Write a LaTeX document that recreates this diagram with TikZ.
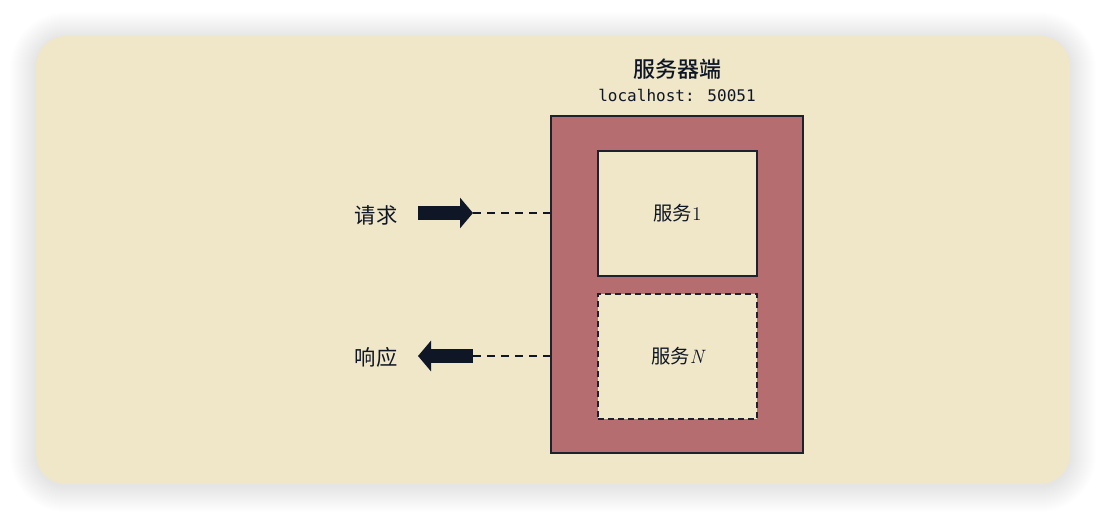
\documentclass[tikz,border=0pt]{standalone}
\usepackage{fontspec}
\newfontfamily\cjk{Noto Sans CJK SC}
\newfontfamily\cjkmed{Noto Sans CJK SC Medium}
\newfontfamily\monofont{DejaVu Sans Mono}
\usetikzlibrary{arrows.meta,positioning,calc}

\definecolor{paper}{RGB}{239,231,200}
\definecolor{brick}{RGB}{181,109,112}
\definecolor{ink}{RGB}{15,22,38}
\definecolor{edge}{RGB}{30,34,46}

\tikzset{
  srvbox/.style={rectangle, draw=edge, line width=1.1pt, fill=brick, minimum width=189pt, minimum height=252.75pt},
  svcbox/.style={rectangle, draw=edge, line width=1.1pt, fill=paper, minimum width=119.25pt, minimum height=93.75pt, font=\cjk\fontsize{14.5}{16}\selectfont, text=ink},
  lbl/.style={font=\cjk\fontsize{16}{18}\selectfont, text=ink},
  bigarrow/.style={ink, line width=10.5pt, -{Triangle[length=9.75pt, width=22.5pt]}},
  dashline/.style={ink, line width=1pt, dash pattern=on 6pt off 4.5pt}
}

\begin{document}
\begin{tikzpicture}[x=0.75pt, y=-0.75pt]
  \useasboundingbox[fill=white] (0,0) rectangle (1106,520);
  % soft shadow + panel
  \foreach \i in {1,...,26}
    \fill[black, opacity=0.005, rounded corners=\i*0.75pt+22.5pt] (36-\i,38-\i) rectangle (1070+\i,486+\i);
  \fill[paper, rounded corners=22.5pt] (36,36) rectangle (1070,484);

  \node (server) at (677,284.5) [srvbox] {};
  \node (svc1) at (677.5,213.5) [svcbox] {服务\rmfamily 1};
  \node (svcn) at (677.5,356.5) [svcbox, dash pattern=on 4.5pt off 3pt] {服务\rmfamily\itshape N};
  \node (host) at (677,95) [font=\monofont\fontsize{12}{14}\selectfont, text=ink] {localhost: 50051};
  \node (title) [above=0pt of host, font=\cjkmed\fontsize{16.5}{18}\selectfont, text=ink] {服务器端};

  \node (req) at (376,215) [lbl] {请求};
  \node (resp) at (376,357) [lbl] {响应};

  \coordinate (reqtail) at (418,213);
  \coordinate (reqtip) at (473,213);
  \coordinate (resptail) at (473,356);
  \coordinate (resptip) at (418,356);

  \draw[bigarrow] (reqtail) -- (reqtip);
  \draw[dashline] (reqtip) -- (reqtip -| server.west);
  \draw[bigarrow] (resptail) -- (resptip);
  \draw[dashline] (resptail) -- (resptail -| server.west);
\end{tikzpicture}
\end{document}
